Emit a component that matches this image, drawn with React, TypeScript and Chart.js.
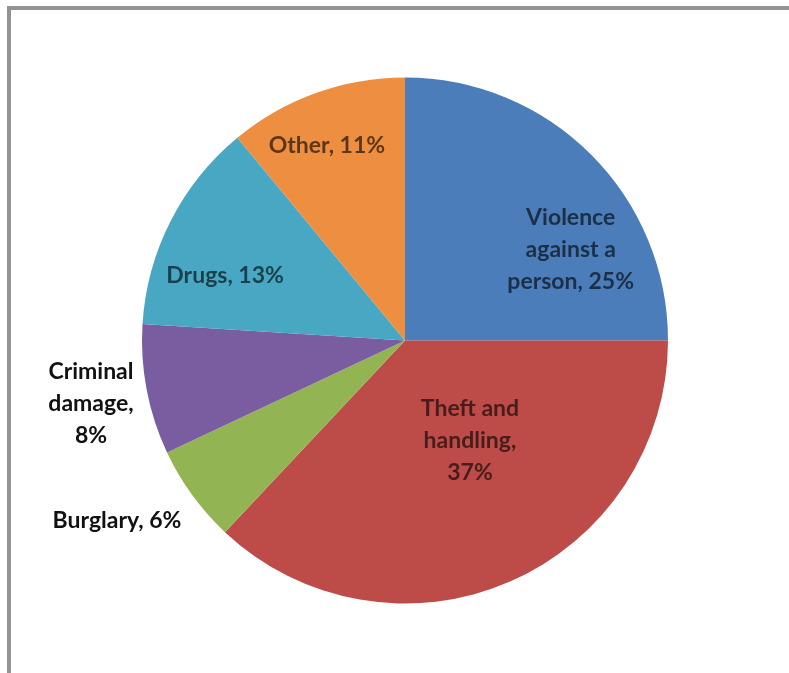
import React, { useEffect, useRef } from "react";
import { Chart, registerables } from "chart.js";

Chart.register(...registerables);

const categories = [
  "Violence against a person",
  "Theft and handling",
  "Burglary",
  "Criminal damage",
  "Drugs",
  "Other",
];
const values = [25, 37, 6, 8, 13, 11];
const labelLines = [
  ["Violence", "against a", "person, 25%"],
  ["Theft and", "handling,", "37%"],
  ["Burglary, 6%"],
  ["Criminal", "damage,", "8%"],
  ["Drugs, 13%"],
  ["Other, 11%"],
];
const colors = ["#4a7db9", "#bd4b48", "#93b452", "#7a5ca0", "#48a8c4", "#ee8e40"];
// label placement relative to pie centre, in units of radius
const labelOffsets = [
  [0.63, -0.344],
  [0.247, 0.382],
  [-1.095, 0.686],
  [-1.194, 0.241],
  [-0.684, -0.245],
  [-0.297, -0.74],
];
const labelColors = [
  "rgba(0,0,0,0.62)",
  "rgba(0,0,0,0.62)",
  "#111",
  "#111",
  "rgba(0,0,0,0.62)",
  "rgba(0,0,0,0.62)",
];

const labelPlugin = {
  id: "sliceLabels",
  afterDatasetsDraw(chart: any) {
    const ctx = chart.ctx;
    const meta = chart.getDatasetMeta(0);
    ctx.save();
    ctx.font = "bold 23px Lato, 'Open Sans', sans-serif";
    ctx.textAlign = "center";
    ctx.textBaseline = "middle";
    meta.data.forEach((arc: any, i: number) => {
      const { x, y, outerRadius } = arc.getProps(["x", "y", "outerRadius"], true);
      const [fx, fy] = labelOffsets[i];
      const cx = x + fx * outerRadius;
      const cy = y + fy * outerRadius;
      const lines = labelLines[i];
      const lh = 32;
      ctx.fillStyle = labelColors[i];
      lines.forEach((ln, k) => {
        ctx.fillText(ln, cx, cy + (k - (lines.length - 1) / 2) * lh);
      });
    });
    ctx.restore();
  },
};

export default function App() {
  const ref = useRef<HTMLCanvasElement>(null);
  useEffect(() => {
    document.body.style.margin = "0";
    const chart = new Chart(ref.current!, {
      type: "pie",
      data: {
        labels: categories,
        datasets: [
          {
            data: values,
            backgroundColor: colors,
            borderWidth: 0,
          },
        ],
      },
      options: {
        animation: false,
        responsive: false,
        layout: { padding: { top: 77, bottom: 69, left: 142, right: 121 } },
        plugins: {
          legend: { display: false },
          tooltip: { enabled: false },
        },
      },
      plugins: [labelPlugin],
    });
    return () => chart.destroy();
  }, []);
  return (
    <div style={{ position: "relative", width: 789, height: 673, background: "#fff", overflow: "hidden" }}>
      <div
        style={{
          position: "absolute",
          left: 7,
          top: 6,
          right: -10,
          bottom: -10,
          borderLeft: "4px solid #939393",
          borderTop: "4px solid #939393",
        }}
      />
      <canvas ref={ref} width={789} height={673} style={{ position: "absolute", left: 0, top: 0 }} />
    </div>
  );
}
